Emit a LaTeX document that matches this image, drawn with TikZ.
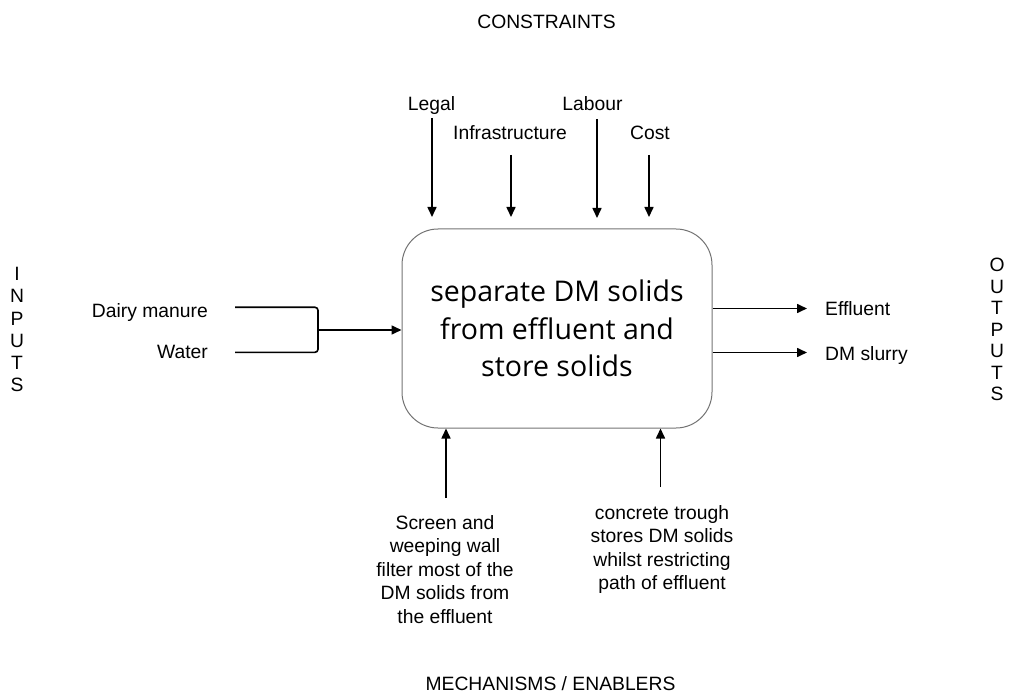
\documentclass[tikz,border=0pt]{standalone}
\usepackage{fontspec}
\setmainfont{Liberation Sans}
\newfontfamily\boxfont{Open Sans}
\usetikzlibrary{arrows.meta}
\begin{document}
\begin{tikzpicture}[x=1pt,y=-1pt,
  font=\fontsize{19.3}{23.6}\selectfont,
  arr/.style={-{Triangle[width=9pt,length=10pt]}, line width=1.6pt},
  wire/.style={line width=1.6pt},
  lbl/.style={inner sep=0pt, align=center},
  procbox/.style={draw=black!55, line width=1pt, rounded corners=36pt,
    minimum width=310pt, minimum height=199pt, align=center,
    font=\boxfont\fontsize{28.5}{37.5}\selectfont}]
\useasboundingbox (0,0) rectangle (1010,695);

% process box
\node[procbox] (p) at (557,328.5) {separate DM solids\\from effluent and\\store solids};

% headings
\node[lbl, anchor=base] (cons) at (546.5,29) {CONSTRAINTS};
\node[lbl, anchor=base] (mech) at (550.5,690.5) {MECHANISMS / ENABLERS};
\node[lbl, anchor=north, font=\fontsize{19.3}{22.3}\selectfont] (inp) at (17,267) {I\\N\\P\\U\\T\\S};
\node[lbl, anchor=north, font=\fontsize{19.3}{21.5}\selectfont] (outp) at (997,258) {O\\U\\T\\P\\U\\T\\S};

% constraints
\node[lbl, anchor=base] (legal) at (431.5,110.5) {Legal};
\node[lbl, anchor=base] (infra) at (510,140) {Infrastructure};
\node[lbl, anchor=base] (labour) at (592.5,110.5) {Labour};
\node[lbl, anchor=base] (cost) at (650,140) {Cost};
\coordinate (legalS) at (432,118);
\coordinate (infraS) at (511,155);
\coordinate (labourS) at (597,119);
\coordinate (costS) at (649,155);
\coordinate (legalE) at (432,217);
\coordinate (infraE) at (511,217);
\coordinate (labourE) at (597,218);
\coordinate (costE) at (649,217);
\draw[arr] (legalS) -- (legalE);
\draw[arr] (infraS) -- (infraE);
\draw[arr] (labourS) -- (labourE);
\draw[arr] (costS) -- (costE);

% inputs
\node[lbl, anchor=base east] (dm) at (208,317) {Dairy manure};
\node[lbl, anchor=base east] (water) at (208,358) {Water};
\coordinate (dmS) at (235,307.3);
\coordinate (waterS) at (235,352.3);
\coordinate (merge) at (318,330);
\draw[wire, rounded corners=3pt] (dmS) -| (merge);
\draw[wire, rounded corners=3pt] (waterS) -| (merge);
\draw[arr] (merge) -- (p.west |- merge);

% outputs
\node[lbl, anchor=base west] (eff) at (825,316) {Effluent};
\node[lbl, anchor=base west] (slurry) at (825,360.5) {DM slurry};
\coordinate (effE) at (807,308.5);
\coordinate (slurryE) at (807,352.5);
\draw[arr] (p.east |- effE) -- (effE);
\draw[arr] (p.east |- slurryE) -- (slurryE);

% mechanisms
\node[lbl, anchor=north] (screen) at (445,515) {Screen and\\weeping wall\\filter most of the\\DM solids from\\the effluent};
\node[lbl, anchor=north] (trough) at (662,505) {concrete trough\\stores DM solids\\whilst restricting\\path of effluent};
\coordinate (screenS) at (446,498);
\coordinate (troughS) at (660.5,487);
\draw[arr] (screenS) -- (p.south -| screenS);
\draw[arr] (troughS) -- (p.south -| troughS);
\end{tikzpicture}
\end{document}
